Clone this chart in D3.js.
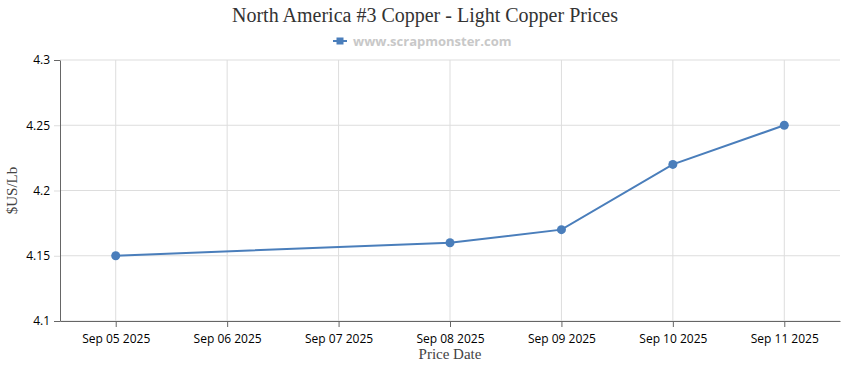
<!DOCTYPE html>
<html>
<head>
<meta charset="utf-8">
<script src="https://cdn.jsdelivr.net/npm/d3@7"></script>
<style>
  body { margin: 0; background: #fff; }
  .tick text { font-family: "Open Sans", "Noto Sans", sans-serif; font-size: 12px; fill: #000; }
</style>
</head>
<body>
<div id="chart"></div>
<script>
// data
const dates = ["Sep 05 2025", "Sep 06 2025", "Sep 07 2025", "Sep 08 2025", "Sep 09 2025", "Sep 10 2025", "Sep 11 2025"];
const prices = [4.15, null, null, 4.16, 4.17, 4.22, 4.25];
const yTicks = [4.1, 4.15, 4.2, 4.25, 4.3];

const W = 850, H = 370;
const margin = {top: 60, right: 10, bottom: 49, left: 60};
const width = W - margin.left - margin.right,
      height = H - margin.top - margin.bottom;

const svg = d3.select("#chart").append("svg")
  .attr("width", W).attr("height", H);

// title + legend
svg.append("text")
  .attr("x", W / 2).attr("y", 22)
  .attr("text-anchor", "middle")
  .style("font-family", "'Liberation Serif', 'Times New Roman', serif")
  .style("font-size", "20px").style("fill", "#333")
  .text("North America #3 Copper - Light Copper Prices");

const lg = svg.append("g").attr("transform", "translate(333,41)");
lg.append("line").attr("x1", 0).attr("x2", 14).attr("y1", 0).attr("y2", 0)
  .attr("stroke", "#4a7ebb").attr("stroke-width", 2);
lg.append("rect").attr("x", 3.5).attr("y", -3.5).attr("width", 7).attr("height", 7).attr("fill", "#4a7ebb");
lg.append("text").attr("x", 20).attr("y", 4.5)
  .style("font-family", "'Open Sans', 'Noto Sans', sans-serif")
  .style("font-size", "13px").style("font-weight", "bold").style("fill", "#c8c8c8")
  .text("www.scrapmonster.com");

const g = svg.append("g").attr("transform", `translate(${margin.left},${margin.top})`);

const x = d3.scalePoint().domain(dates).range([0, width]).padding(0.5);
const y = d3.scaleLinear().domain([4.1, 4.3]).range([height, 0]);

// horizontal grid
g.append("g").selectAll("line").data(yTicks).join("line")
  .attr("x1", 0).attr("x2", width)
  .attr("y1", d => y(d)).attr("y2", d => y(d))
  .attr("stroke", "#ddd");
// vertical grid
g.append("g").selectAll("line").data(dates).join("line")
  .attr("x1", d => x(d)).attr("x2", d => x(d))
  .attr("y1", 0).attr("y2", height)
  .attr("stroke", "#ddd");

// axes
const yAxis = g.append("g")
  .call(d3.axisLeft(y).tickValues(yTicks).tickFormat(d3.format("")).tickSize(6).tickSizeOuter(0).tickPadding(4));
yAxis.select(".domain").attr("stroke", "#666");
yAxis.selectAll(".tick line").attr("stroke", d => (d === 4.1 || d === 4.3) ? "#666" : "#ddd");

const xAxis = g.append("g").attr("transform", `translate(0,${height})`)
  .call(d3.axisBottom(x).tickSize(6).tickSizeOuter(0).tickPadding(7));
xAxis.select(".domain").attr("stroke", "#666");
xAxis.selectAll(".tick line").attr("stroke", "#666");

// axis titles
svg.append("text")
  .attr("transform", `translate(17,${margin.top + height / 2}) rotate(-90)`)
  .attr("text-anchor", "middle")
  .style("font-family", "'Liberation Serif', 'Times New Roman', serif")
  .style("font-size", "15px").style("fill", "#444")
  .text("$US/Lb");
svg.append("text")
  .attr("x", margin.left + width / 2).attr("y", 359)
  .attr("text-anchor", "middle")
  .style("font-family", "'Liberation Serif', 'Times New Roman', serif")
  .style("font-size", "15px").style("fill", "#444")
  .text("Price Date");

// series
const pts = dates.map((d, i) => ({date: d, v: prices[i]})).filter(d => d.v != null);
const line = d3.line().x(d => x(d.date)).y(d => y(d.v));
g.append("path").datum(pts)
  .attr("d", line).attr("fill", "none")
  .attr("stroke", "#4a7ebb").attr("stroke-width", 2);
g.selectAll(".dot").data(pts).join("circle")
  .attr("class", "dot")
  .attr("cx", d => x(d.date)).attr("cy", d => y(d.v))
  .attr("r", 4.5).attr("fill", "#4a7ebb");
</script>
</body>
</html>
